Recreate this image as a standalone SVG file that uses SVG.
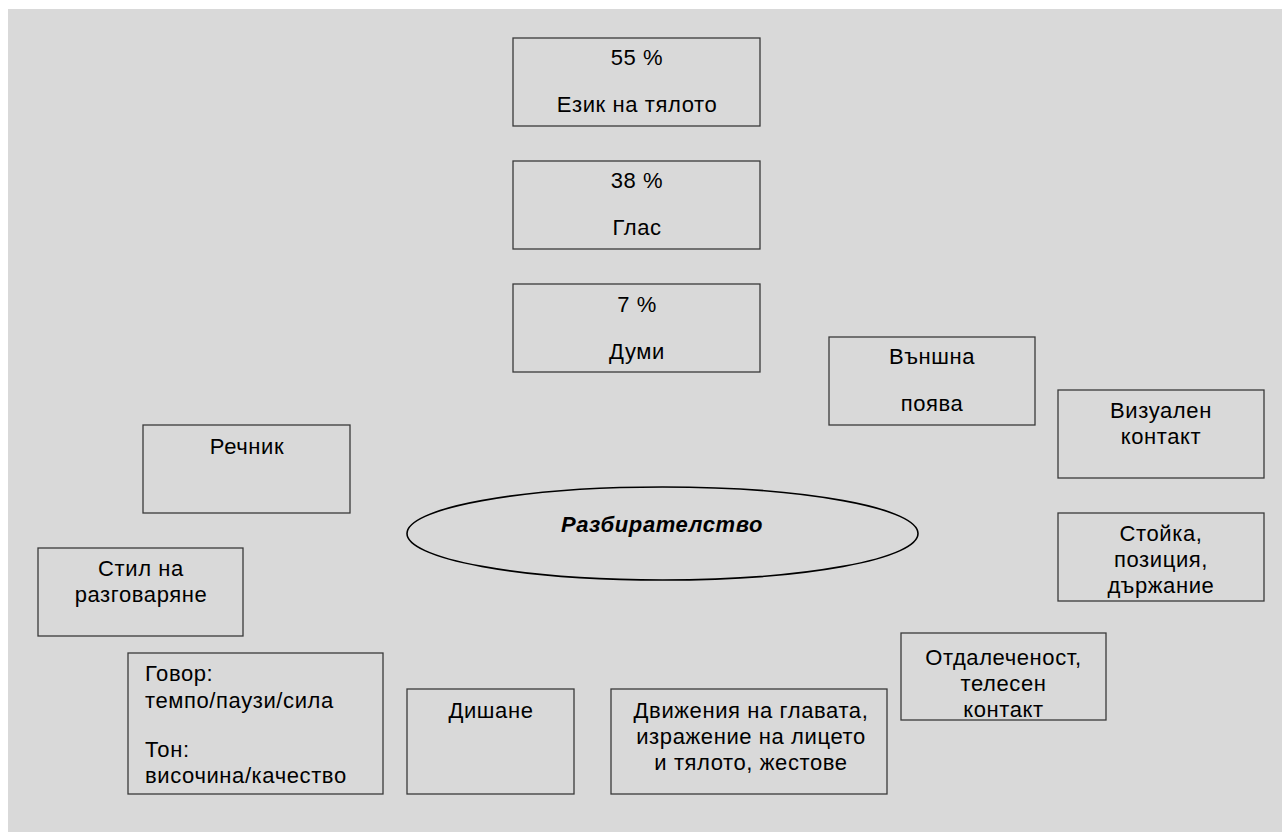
<svg xmlns="http://www.w3.org/2000/svg" width="1282" height="832" viewBox="0 0 1282 832">
<style>
.bg{fill:#d9d9d9}
.box{fill:#d9d9d9;stroke:#3a3a3a;stroke-width:1.3}
.t{font-family:"Liberation Sans",Arial,sans-serif;font-size:22px;letter-spacing:0.6px;fill:#000;text-anchor:middle}
.l{text-anchor:start}
.ttl{font-family:"Liberation Sans",Arial,sans-serif;font-size:22px;letter-spacing:0.6px;font-weight:bold;font-style:italic;text-anchor:middle;fill:#000}
</style>
<rect class="bg" x="8" y="9" width="1274" height="823"/>
<g id="connectors"></g>
<g id="n55">
<rect class="box" x="513" y="38" width="247" height="88"/>
<text class="t" x="637" y="65">55 %</text>
<text class="t" x="637" y="112">Език на тялото</text>
</g>
<g id="n38">
<rect class="box" x="513" y="161" width="247" height="88"/>
<text class="t" x="637" y="188">38 %</text>
<text class="t" x="637" y="235">Глас</text>
</g>
<g id="n7">
<rect class="box" x="513" y="284" width="247" height="88"/>
<text class="t" x="637" y="312">7 %</text>
<text class="t" x="637" y="359">Думи</text>
</g>
<g id="appearance">
<rect class="box" x="829" y="337" width="206" height="88"/>
<text class="t" x="932" y="364">Външна</text>
<text class="t" x="932" y="411">поява</text>
</g>
<g id="eye">
<rect class="box" x="1058" y="390" width="206" height="88"/>
<text class="t" x="1161" y="418">Визуален</text>
<text class="t" x="1161" y="444">контакт</text>
</g>
<g id="posture">
<rect class="box" x="1058" y="513" width="206" height="88"/>
<text class="t" x="1161" y="541">Стойка,</text>
<text class="t" x="1161" y="567">позиция,</text>
<text class="t" x="1161" y="593">държание</text>
</g>
<g id="distance">
<rect class="box" x="901" y="633" width="205" height="87"/>
<text class="t" x="1003.5" y="665">Отдалеченост,</text>
<text class="t" x="1003.5" y="691">телесен</text>
<text class="t" x="1003.5" y="717">контакт</text>
</g>
<g id="gestures">
<rect class="box" x="611" y="689" width="276" height="105"/>
<text class="t" x="751" y="718">Движения на главата,</text>
<text class="t" x="751" y="744">изражение на лицето</text>
<text class="t" x="751" y="770">и тялото, жестове</text>
</g>
<g id="breathing">
<rect class="box" x="407" y="689" width="167" height="105"/>
<text class="t" x="491" y="718">Дишане</text>
</g>
<g id="speech">
<rect class="box" x="128" y="653" width="255" height="141"/>
<text class="t l" x="145" y="681">Говор:</text>
<text class="t l" x="145" y="708">темпо/паузи/сила</text>
<text class="t l" x="145" y="757">Тон:</text>
<text class="t l" x="145" y="783">височина/качество</text>
</g>
<g id="style">
<rect class="box" x="38" y="548" width="205" height="88"/>
<text class="t" x="141" y="576">Стил на</text>
<text class="t" x="141" y="602">разговаряне</text>
</g>
<g id="vocab">
<rect class="box" x="143" y="425" width="207" height="88"/>
<text class="t" x="247" y="454">Речник</text>
</g>
<g id="center">
<ellipse cx="662.5" cy="533.5" rx="255.5" ry="46.5" fill="none" stroke="#000" stroke-width="1.6"/>
<text class="ttl" x="662" y="532">Разбирателство</text>
</g>
</svg>
